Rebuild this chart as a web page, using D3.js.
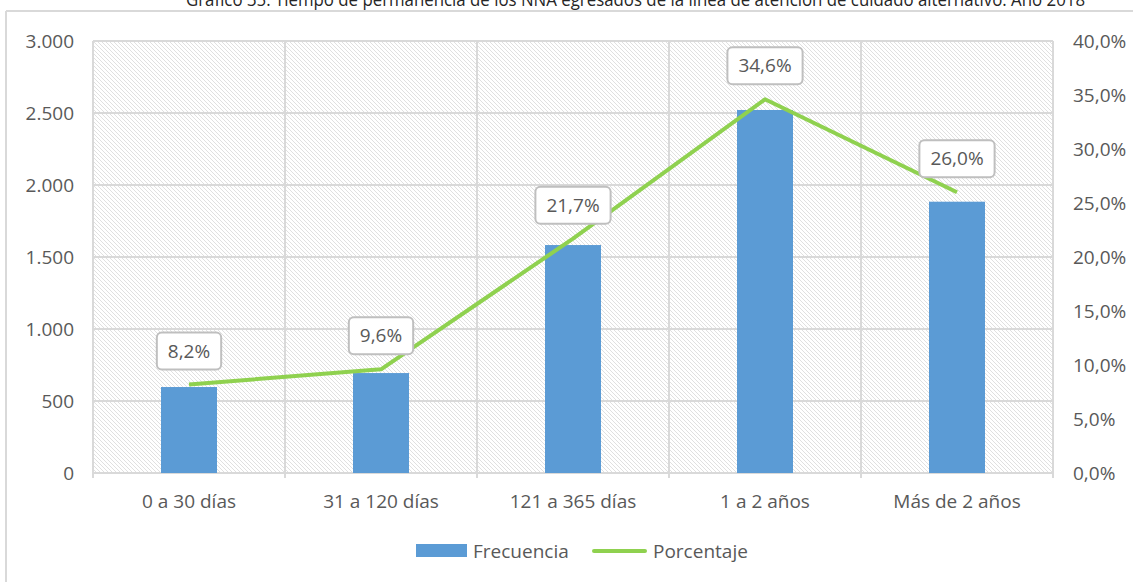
<!DOCTYPE html>
<html>
<head>
<meta charset="utf-8">
<script src="https://cdn.jsdelivr.net/npm/d3@7"></script>
<style>
  html, body { margin: 0; padding: 0; background: #fff; }
  svg { display: block; font-family: "Open Sans", sans-serif; }
</style>
</head>
<body>
<svg id="chart" width="1133" height="582"></svg>
<script>
const title = "Gráfico 35. Tiempo de permanencia de los NNA egresados de la línea de atención de cuidado alternativo. Año 2018";
const categories = ["0 a 30 días", "31 a 120 días", "121 a 365 días", "1 a 2 años", "Más de 2 años"];
const frecuencia = [597, 694, 1583, 2521, 1884];
const porcentaje = [8.2, 9.6, 21.7, 34.6, 26.0];
const leftTicks = [0, 500, 1000, 1500, 2000, 2500, 3000];
const rightTicks = [0, 5, 10, 15, 20, 25, 30, 35, 40];
const seriesNames = ["Frecuencia", "Porcentaje"];

const loc = d3.formatLocale({decimal: ",", thousands: ".", grouping: [3], currency: ["", ""]});
const fmtInt = loc.format(",.0f");
const fmtPct = v => loc.format(".1f")(v) + "%";

const svg = d3.select("#chart");
const M = {left: 93, right: 1053, top: 41, bottom: 473};
const textColor = "#595959";
const gridColor = "#d9d9d9";
const fs = 19;

const x = d3.scaleBand().domain(categories).range([M.left, M.right]).padding(0);
const yL = d3.scaleLinear().domain([0, 3000]).range([M.bottom, M.top]);
const yR = d3.scaleLinear().domain([0, 40]).range([M.bottom, M.top]);

// hatch pattern
const defs = svg.append("defs");
const pat = defs.append("pattern").attr("id", "hatch").attr("patternUnits", "userSpaceOnUse")
  .attr("width", 4).attr("height", 4);
pat.append("rect").attr("width", 4).attr("height", 4).attr("fill", "#fff");
pat.append("path").attr("d", "M-1,-1 L5,5 M-1,3 L1,5 M3,-1 L5,1")
  .attr("stroke", "#e0e0e0").attr("stroke-width", 1);

// outer chart border (top & left visible)
svg.append("line").attr("x1", 6).attr("x2", 1140).attr("y1", 11).attr("y2", 11)
  .attr("stroke", gridColor).attr("stroke-width", 2);
svg.append("line").attr("x1", 6).attr("x2", 6).attr("y1", 11).attr("y2", 590)
  .attr("stroke", gridColor).attr("stroke-width", 2);

// title (clipped at top, as in the reference)
svg.append("text").attr("x", 186).attr("y", 6).attr("fill", "#262626")
  .attr("font-size", 19).attr("textLength", 899).attr("lengthAdjust", "spacingAndGlyphs")
  .text(title);

// plot area
svg.append("rect").attr("x", M.left).attr("y", M.top)
  .attr("width", M.right - M.left).attr("height", M.bottom - M.top)
  .attr("fill", "url(#hatch)");

// horizontal gridlines
svg.append("g").selectAll("line").data(leftTicks).join("line")
  .attr("x1", M.left).attr("x2", M.right)
  .attr("y1", d => yL(d)).attr("y2", d => yL(d))
  .attr("stroke", gridColor).attr("stroke-width", 2);

// vertical category boundaries + ticks
const bounds = categories.map(c => x(c)).concat([M.right]);
svg.append("g").selectAll("line").data(bounds).join("line")
  .attr("x1", d => d).attr("x2", d => d)
  .attr("y1", M.top).attr("y2", M.bottom + 5)
  .attr("stroke", gridColor).attr("stroke-width", 2);

// left axis
const axL = svg.append("g").attr("transform", `translate(${M.left - 19},0)`)
  .call(d3.axisLeft(yL).tickValues(leftTicks).tickFormat(fmtInt).tickSize(0).tickPadding(0));
axL.select(".domain").remove();
axL.selectAll("text").attr("font-size", fs).attr("fill", textColor).attr("font-family", "Open Sans");

// right axis
const axR = svg.append("g").attr("transform", `translate(${M.right + 20},0)`)
  .call(d3.axisRight(yR).tickValues(rightTicks).tickFormat(fmtPct).tickSize(0).tickPadding(0));
axR.select(".domain").remove();
axR.selectAll("text").attr("font-size", fs).attr("fill", textColor).attr("font-family", "Open Sans");

// bottom axis labels
const axB = svg.append("g").attr("transform", `translate(0,${M.bottom})`)
  .call(d3.axisBottom(x).tickSize(0).tickPadding(22));
axB.select(".domain").remove();
axB.selectAll("text").attr("font-size", fs).attr("fill", textColor).attr("font-family", "Open Sans");

// bars
const bw = 56;
svg.append("g").selectAll("rect").data(frecuencia).join("rect")
  .attr("x", (d, i) => x(categories[i]) + x.bandwidth() / 2 - bw / 2)
  .attr("width", bw)
  .attr("y", d => yL(d))
  .attr("height", d => yL(0) - yL(d))
  .attr("fill", "#5b9bd5");

// line
const line = d3.line()
  .x((d, i) => x(categories[i]) + x.bandwidth() / 2)
  .y(d => yR(d));
svg.append("path").datum(porcentaje).attr("d", line)
  .attr("fill", "none").attr("stroke", "#8fd14f").attr("stroke-width", 4)
  .attr("stroke-linejoin", "round");

// data labels
const lg = svg.append("g").selectAll("g").data(porcentaje).join("g")
  .attr("transform", (d, i) => `translate(${x(categories[i]) + x.bandwidth() / 2},${yR(d) - 33.5})`);
lg.each(function(d) {
  const g = d3.select(this);
  const r = g.append("rect");
  const t = g.append("text").attr("text-anchor", "middle").attr("dy", "0.35em")
    .attr("font-size", fs).attr("fill", textColor).text(fmtPct(d));
  const w = t.node().getComputedTextLength() + 22;
  r.attr("x", -w / 2).attr("y", -18.5).attr("width", w).attr("height", 37)
    .attr("rx", 5).attr("fill", "#fff").attr("stroke", "#bfbfbf").attr("stroke-width", 2);
});

// legend
const leg = svg.append("g");
leg.append("rect").attr("x", 416).attr("y", 544).attr("width", 51).attr("height", 13).attr("fill", "#5b9bd5");
leg.append("text").attr("x", 473).attr("y", 551).attr("dy", "0.35em").attr("font-size", fs)
  .attr("fill", textColor).text(seriesNames[0]);
leg.append("line").attr("x1", 594).attr("x2", 645).attr("y1", 551).attr("y2", 551)
  .attr("stroke", "#8fd14f").attr("stroke-width", 4).attr("stroke-linecap", "round");
leg.append("text").attr("x", 653).attr("y", 551).attr("dy", "0.35em").attr("font-size", fs)
  .attr("fill", textColor).text(seriesNames[1]);
</script>
</body>
</html>
